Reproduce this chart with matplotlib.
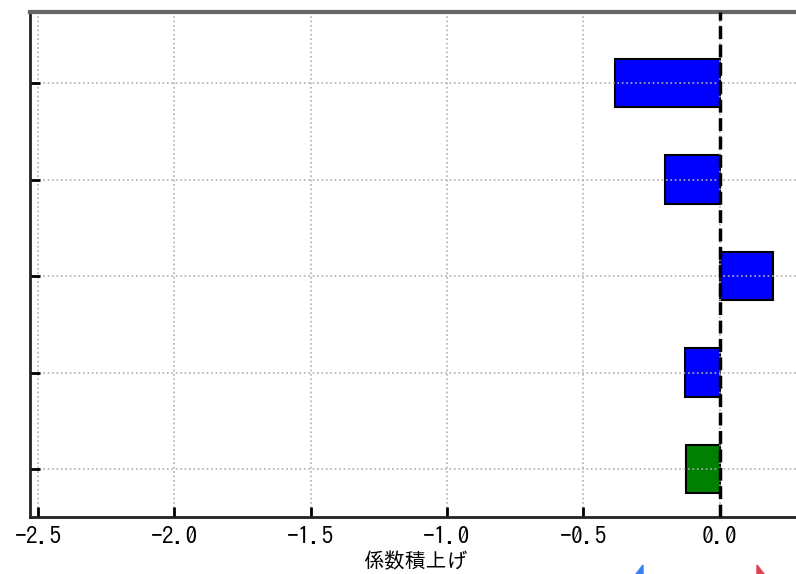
import numpy as np
import matplotlib
matplotlib.use('Agg')
import matplotlib.pyplot as plt
from matplotlib.patches import Polygon

# valores (de abajo hacia arriba)
items = ['A', 'B', 'C', 'D', 'E']
valores = [-0.122, -0.127, 0.197, -0.201, -0.384]
colores = ['#008000', '#0000ff', '#0000ff', '#0000ff', '#0000ff']
xticks = [-2.5, -2.0, -1.5, -1.0, -0.5, 0.0]

plt.rcParams['font.family'] = ['IPAGothic', 'Noto Sans CJK JP', 'DejaVu Sans']

fig = plt.figure(figsize=(7.96, 5.74), dpi=100)
W, H = 796, 574
ax = fig.add_axes([30 / W, (H - 517.3) / H, 770 / W, (517.3 - 11.7) / H])

y = np.arange(len(items))
ax.barh(y, valores, height=0.5, color=colores, edgecolor='black', linewidth=1.5)
ax.axvline(0, color='black', linestyle='--', linewidth=2.5, zorder=3)

ax.set_xlim(-2.53, -2.53 + 770 / 272.6)
ax.set_ylim(-0.5, 4.74)
ax.set_xticks(xticks)
ax.set_xticklabels(['\u2212%.1f' % abs(v) if v < 0 else '%.1f' % v for v in xticks])
ax.set_yticks(y)
ax.set_yticklabels([''] * len(items))
ax.grid(True, linestyle=':', color='#b0b0b0', linewidth=1.2)

ax.tick_params(direction='in', length=7, width=2, labelsize=17, pad=6)
for s in ['left', 'bottom']:
    ax.spines[s].set_linewidth(2)
    ax.spines[s].set_color('#222222')
ax.spines['top'].set_linewidth(3)
ax.spines['top'].set_color('#666666')
ax.spines['right'].set_visible(False)

ax.set_xlabel('係数積上げ', fontsize=15, labelpad=4)

# puntas de flechas cortadas abajo
fig.patches.append(Polygon([[643 / W, 0], [643 / W, 9 / H], [636 / W, 0]], closed=True,
                           transform=fig.transFigure, color='#3a7ff0'))
fig.patches.append(Polygon([[757 / W, 0], [757 / W, 9 / H], [764 / W, 0]], closed=True,
                           transform=fig.transFigure, color='#e04050'))

fig.savefig('out.png', dpi=100)
